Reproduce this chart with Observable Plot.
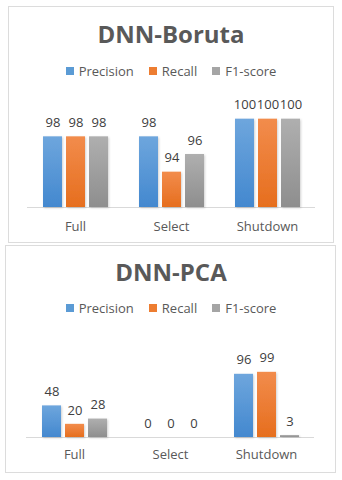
<!DOCTYPE html>
<html><head><meta charset="utf-8">
<script src="https://cdn.jsdelivr.net/npm/d3@7"></script>
<script src="https://cdn.jsdelivr.net/npm/@observablehq/plot@0.6"></script>
<style>
  html,body{margin:0;padding:0;background:#fff;}
  body{width:342px;height:480px;position:relative;overflow:hidden;font-family:"Open Sans",sans-serif;}
  .box{position:absolute;box-sizing:border-box;border:1.5px solid #dcdcdc;background:#fff;}
  .title{position:absolute;left:0;width:342px;text-align:center;font-size:24px;font-weight:bold;color:#595959;line-height:28px;}
  .legend{position:absolute;left:0;width:342px;display:flex;justify-content:center;gap:15px;font-size:13px;color:#595959;line-height:16px;}
  .legend span.item{display:flex;align-items:center;gap:5px;}
  .legend span.sw{display:inline-block;width:8px;height:8px;}
  .chart{position:absolute;left:0;}
</style>
</head><body>
<svg width="0" height="0" style="position:absolute">
  <defs>
    <linearGradient id="gBlue" x1="0" y1="0" x2="0" y2="1"><stop offset="0" stop-color="#6ea6dd"/><stop offset="1" stop-color="#4388cf"/></linearGradient>
    <linearGradient id="gOrange" x1="0" y1="0" x2="0" y2="1"><stop offset="0" stop-color="#f28c4c"/><stop offset="1" stop-color="#e66e1e"/></linearGradient>
    <linearGradient id="gGray" x1="0" y1="0" x2="0" y2="1"><stop offset="0" stop-color="#afafaf"/><stop offset="1" stop-color="#8e8e8e"/></linearGradient>
    <filter id="shadow" x="-20%" y="-20%" width="140%" height="140%"><feDropShadow dx="1" dy="1" stdDeviation="1" flood-color="#000" flood-opacity="0.18"/></filter>
  </defs>
</svg>
<div class="box" style="left:8px;top:6px;width:326px;height:237px;"></div>
<div class="box" style="left:5px;top:245px;width:331px;height:228px;"></div>
<script>
const categories = ["Full", "Select", "Shutdown"];
const series = ["Precision", "Recall", "F1-score"];
const seriesColors = ["#5b9bd5", "#ed7d31", "#a5a5a5"];
const seriesFills = ["url(#gBlue)", "url(#gOrange)", "url(#gGray)"];

const borutaPrecision = [98, 98, 100];
const borutaRecall = [98, 94, 100];
const borutaF1 = [98, 96, 100];

const pcaPrecision = [48, 0, 96];
const pcaRecall = [20, 0, 99];
const pcaF1 = [28, 0, 3];

const borutaYDomain = [90, 102];
const pcaYDomain = [0, 120];

function table(lists) {
  const rows = [];
  categories.forEach((c, i) => {
    series.forEach((s, j) => rows.push({cat: c, series: s, value: lists[j][i]}));
  });
  return rows;
}

function addLegend(top) {
  const lg = document.createElement("div");
  lg.className = "legend";
  lg.style.top = top + "px";
  series.forEach((s, j) => {
    const it = document.createElement("span");
    it.className = "item";
    const sw = document.createElement("span");
    sw.className = "sw";
    sw.style.background = seriesColors[j];
    it.appendChild(sw);
    it.appendChild(document.createTextNode(s));
    lg.appendChild(it);
  });
  document.body.appendChild(lg);
}

function addTitle(text, top) {
  const t = document.createElement("div");
  t.className = "title";
  t.style.top = top + "px";
  t.textContent = text;
  document.body.appendChild(t);
}

function makeChart({title, titleTop, legendTop, svgTop, height, marginTop, marginBottom, marginLeft, marginRight, yDomain, lists, tickPadding}) {
  addTitle(title, titleTop);
  addLegend(legendTop);
  const data = table(lists);
  const chart = Plot.plot({
    width: 342,
    height,
    marginTop, marginBottom, marginLeft, marginRight,
    style: {fontFamily: "'Open Sans', sans-serif", fontSize: "13px", color: "#595959", background: "transparent", overflow: "visible"},
    fx: {domain: categories, padding: 0, axis: "bottom", tickSize: 0, tickPadding, label: null},
    x: {domain: series, paddingInner: 0.19, paddingOuter: 0.6, axis: null},
    y: {domain: yDomain, axis: null},
    color: {domain: series, range: seriesFills},
    marks: [
      Plot.ruleY([yDomain[0]], {stroke: "#d9d9d9", strokeWidth: 1.2}),
      Plot.barY(data, {fx: "cat", x: "series", y1: yDomain[0], y2: "value", fill: "series", filter: d => d.value > yDomain[0] || true}),
      Plot.text(data, {fx: "cat", x: "series", y: "value", text: d => String(d.value), dy: -14, fill: "#404040", fontSize: 13})
    ]
  });
  chart.classList.add("chart");
  chart.style.top = svgTop + "px";
  chart.querySelectorAll("g[aria-label='bar'] rect").forEach(r => r.setAttribute("filter", "url(#shadow)"));
  document.body.appendChild(chart);
}

makeChart({
  title: "DNN-Boruta", titleTop: 20, legendTop: 63,
  svgTop: 85, height: 150, marginTop: 16, marginBottom: 28, marginLeft: 27, marginRight: 27,
  yDomain: borutaYDomain, lists: [borutaPrecision, borutaRecall, borutaF1], tickPadding: 14
});

makeChart({
  title: "DNN-PCA", titleTop: 258, legendTop: 300,
  svgTop: 320, height: 140, marginTop: 38, marginBottom: 23, marginLeft: 25, marginRight: 27,
  yDomain: pcaYDomain, lists: [pcaPrecision, pcaRecall, pcaF1], tickPadding: 12
});
</script>
</body></html>
